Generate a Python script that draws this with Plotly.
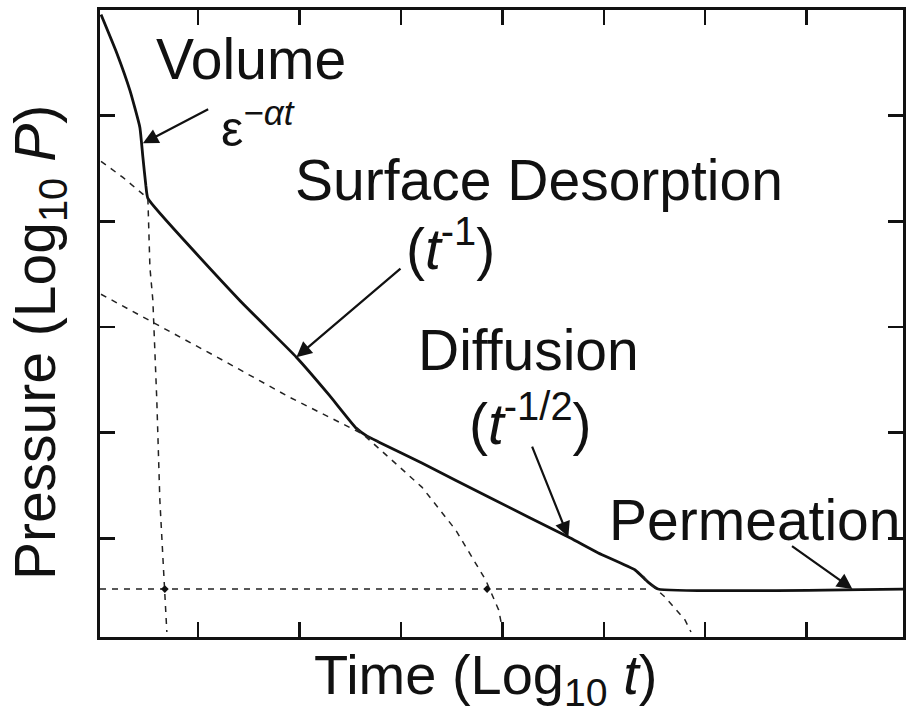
import plotly.graph_objects as go

# ---- data (x = log10 t, y = log10 P, arbitrary decades) ----
total_x = [0.044, 0.201, 0.329, 0.427, 0.457, 0.486, 0.506,
           1.410, 1.970, 2.294, 2.559, 2.667, 2.785,
           3.207, 3.865, 4.671, 4.946, 5.309, 5.437, 5.535, 7.95]
total_y = [5.957, 5.589, 5.239, 4.889, 4.605, 4.340, 4.217,
           3.253, 2.714, 2.355, 2.043, 1.967, 1.910,
           1.712, 1.390, 1.002, 0.861, 0.700, 0.586, 0.52, 0.52]

surf_up_x = [0.044, 0.260, 0.506]
surf_up_y = [4.567, 4.416, 4.217]

diff_up_x = [0.044, 0.555, 1.243, 1.901, 2.461, 2.785]
diff_up_y = [3.310, 3.045, 2.686, 2.336, 2.071, 1.910]

surf_down_x = [2.559, 2.883, 3.207, 3.541, 3.836, 3.964, 4.003]
surf_down_y = [2.043, 1.768, 1.485, 1.078, 0.605, 0.322, 0.132]

vol_down_x = [0.506, 0.526, 0.555, 0.594, 0.624, 0.673, 0.693]
vol_down_y = [4.217, 3.565, 3.253, 2.307, 1.362, 0.539, 0.113]

perm_x = [0.034, 5.44]
perm_y = [0.52, 0.52]

diff_down_x = [5.388, 5.437, 5.604, 5.801, 5.860]
diff_down_y = [0.643, 0.586, 0.444, 0.227, 0.113]

cross_x = [0.673, 3.85]
cross_y = [0.52, 0.52]

labels = ["Volume", "Surface Desorption", "(<i>t</i><sup>-1</sup>)",
          "Diffusion", "(<i>t</i><sup>-1/2</sup>)", "Permeation"]
label_x = [1.527, 4.357, 3.492, 4.258, 4.278, 6.489]
label_y = [5.541, 4.388, 3.773, 2.780, 2.118, 1.173]

exp_label = "ε<sup><i>−αt</i></sup>"
exp_x = 1.59
exp_y = 4.91

arrow_head_x = [0.457, 1.970, 4.651, 7.451]
arrow_head_y = [4.738, 2.714, 1.012, 0.52]
arrow_tail_x = [1.115, 3.011, 4.288, 6.841]
arrow_tail_y = [5.069, 3.565, 1.882, 0.936]

INK = "#111111"
FONT = "Liberation Sans, Arial, sans-serif"

fig = go.Figure()
fig.add_trace(go.Scatter(x=total_x, y=total_y, mode="lines",
                         line=dict(color=INK, width=2.8, shape="spline", smoothing=0.4),
                         hoverinfo="skip"))
dash_style = dict(color="#222222", width=1.5, dash="6px,6px")
for xs, ys in [(surf_up_x, surf_up_y), (diff_up_x, diff_up_y),
               (surf_down_x, surf_down_y), (vol_down_x, vol_down_y),
               (perm_x, perm_y), (diff_down_x, diff_down_y)]:
    fig.add_trace(go.Scatter(x=xs, y=ys, mode="lines", line=dash_style,
                             hoverinfo="skip"))
fig.add_trace(go.Scatter(x=cross_x, y=cross_y, mode="markers",
                         marker=dict(symbol="diamond", size=6, color=INK),
                         hoverinfo="skip"))

for t, x, y in zip(labels, label_x, label_y):
    fig.add_annotation(x=x, y=y, text=t, showarrow=False,
                       font=dict(family=FONT, size=57, color=INK))

fig.add_annotation(x=exp_x, y=exp_y, text=exp_label, showarrow=False,
                   font=dict(family=FONT, size=50, color=INK))

for hx, hy, tx, ty in zip(arrow_head_x, arrow_head_y, arrow_tail_x, arrow_tail_y):
    fig.add_annotation(x=hx, y=hy, ax=tx, ay=ty, xref="x", yref="y",
                       axref="x", ayref="y", text="", showarrow=True,
                       arrowhead=2, arrowsize=1.4, arrowwidth=2.2,
                       arrowcolor=INK)

fig.add_annotation(xref="paper", yref="paper", x=0.48, y=-0.066,
                   xanchor="center", yanchor="middle",
                   text="Time (Log<sub>10</sub> <i>t</i>)", showarrow=False,
                   font=dict(family=FONT, size=56, color=INK))
fig.add_annotation(xref="paper", yref="paper", x=-0.075, y=0.47,
                   xanchor="center", yanchor="middle",
                   text="Pressure (Log<sub>10</sub> <i>P</i>)", showarrow=False,
                   textangle=-90,
                   font=dict(family=FONT, size=57, color=INK))

axis_common = dict(showgrid=False, zeroline=False, showticklabels=False,
                   showline=True, linecolor=INK, linewidth=3, mirror="ticks",
                   ticks="inside", ticklen=15, tickwidth=2.5, tickcolor=INK)
fig.update_xaxes(range=[0.034, 7.95], tickvals=[1, 2, 3, 4, 5, 6, 7], **axis_common)
fig.update_yaxes(range=[0.066, 6.0], tickvals=[1, 2, 3, 4, 5], **axis_common)

fig.update_layout(width=911, height=720, showlegend=False,
                  margin=dict(l=100, r=5, t=10, b=83),
                  paper_bgcolor="white", plot_bgcolor="white")

fig.write_html("out.html",
               config={"displayModeBar": False, "staticPlot": True},
               post_script="document.body.style.margin='0';"
                           "document.body.style.overflow='hidden';")
